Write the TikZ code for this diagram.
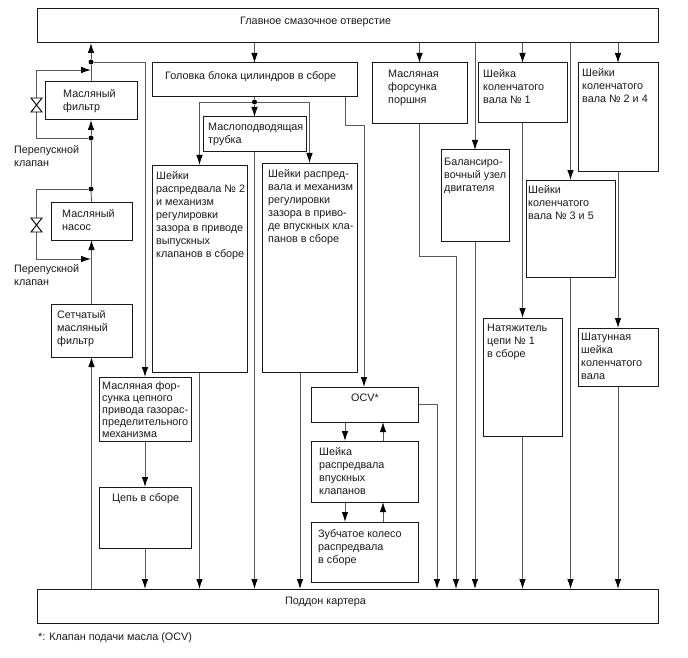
\documentclass[tikz,border=0pt]{standalone}
\usepackage{fontspec}
\usepackage{tikz}
\usepackage{xcolor}
\setmainfont{Liberation Sans}
\usetikzlibrary{arrows.meta,backgrounds}

\definecolor{linegray}{gray}{0.35}
\definecolor{boxline}{gray}{0.1}

\tikzset{
    unit/.style={draw=boxline, line width=1pt, rectangle, inner sep=0pt, outer sep=0pt, anchor=north west},
    txt/.style={inner sep=0pt, anchor=north west, align=left, text=black!90, font=\fontsize{10.8}{13}\selectfont},
    feed/.style={draw=linegray, line width=0.9pt},
    arr/.style={feed, -{Latex[length=10pt,width=6.5pt,color=black]}},
    joint/.style={circle, fill=black, inner sep=0pt, minimum size=5pt},
    valve/.style={draw=black, line width=0.9pt, fill=white}
}

\begin{document}
\begin{tikzpicture}[x=1pt,y=-1pt]
    \useasboundingbox (0,0) rectangle (688,658);

    % main gallery and oil pan
    \node[unit, minimum width=621pt, minimum height=34pt] (gallery) at (37,9) {};
    \node[unit, minimum width=621pt, minimum height=34pt] (pan) at (37,589) {};
    \node[txt] (gallerytxt) at (240,17) {Главное смазочное отверстие};
    \node[txt] (pantxt) at (285,597) {Поддон картера};

    % left column
    \node[unit, minimum width=92pt, minimum height=38pt] (filter) at (45,82) {};
    \node[txt] (filtertxt) at (63,89) {Масляный\\фильтр};
    \node[unit, minimum width=81pt, minimum height=38pt] (pump) at (51,202) {};
    \node[txt] (pumptxt) at (62,209) {Масляный\\насос};
    \node[unit, minimum width=81pt, minimum height=53pt] (strainer) at (51,304) {};
    \node[txt] (strainertxt) at (57,310) {Сетчатый\\масляный\\фильтр};
    \node[txt] (bypassa) at (14,145) {Перепускной\\клапан};
    \node[txt] (bypassb) at (14,264) {Перепускной\\клапан};

    % chain branch
    \node[unit, minimum width=92pt, minimum height=64pt] (jet) at (99,377) {};
    \node[txt, font=\fontsize{10.8}{12}\selectfont] (jettxt) at (102,381) {Масляная фор-\\сунка цепного\\привода газорас-\\пределительного\\механизма};
    \node[unit, minimum width=92pt, minimum height=61pt] (chain) at (99,487) {};
    \node[txt] (chaintxt) at (112,493) {Цепь в сборе};

    % cylinder head branch
    \node[unit, minimum width=205pt, minimum height=34pt] (head) at (152,63) {};
    \node[txt] (headtxt) at (165,71) {Головка блока цилиндров в сборе};
    \node[unit, minimum width=103pt, minimum height=35pt] (tube) at (203,117) {};
    \node[txt] (tubetxt) at (208,123) {Маслоподводящая\\трубка};
    \node[unit, minimum width=95pt, minimum height=207pt] (camex) at (152,165) {};
    \node[txt] (camextxt) at (156,171) {Шейки\\распредвала № 2\\и механизм\\регулировки\\зазора в приводе\\выпускных\\клапанов в сборе};
    \node[unit, minimum width=95pt, minimum height=209pt] (camin) at (262,163) {};
    \node[txt] (camintxt) at (268,169) {Шейки распред-\\вала и механизм\\регулировки\\зазора в приво-\\де впускных кла-\\панов в сборе};

    % variable timing branch
    \node[unit, minimum width=107pt, minimum height=35pt] (ocv) at (311,387) {};
    \node[txt] (ocvtxt) at (351,394) {OCV*};
    \node[unit, minimum width=107pt, minimum height=61pt] (journal) at (311,441) {};
    \node[txt] (journaltxt) at (319,447) {Шейка\\распредвала\\впускных\\клапанов};
    \node[unit, minimum width=107pt, minimum height=60pt] (gear) at (311,522) {};
    \node[txt] (geartxt) at (318,529) {Зубчатое колесо\\распредвала\\в сборе};

    % crankshaft side
    \node[unit, minimum width=95pt, minimum height=61pt] (piston) at (372,63) {};
    \node[txt] (pistontxt) at (388,70) {Масляная\\форсунка\\поршня};
    \node[unit, minimum width=68pt, minimum height=91pt] (balance) at (441,150) {};
    \node[txt] (balancetxt) at (444,158) {Балансиро-\\вочный узел\\двигателя};
    \node[unit, minimum width=89pt, minimum height=60pt] (crankone) at (478,63) {};
    \node[txt] (cranktxt) at (483,69) {Шейка\\коленчатого\\вала № 1};
    \node[unit, minimum width=80pt, minimum height=108pt] (cranktwo) at (578,63) {};
    \node[txt] (cranktwotxt) at (582,68) {Шейки\\коленчатого\\вала № 2 и 4};
    \node[unit, minimum width=89pt, minimum height=97pt] (crankthree) at (526,180) {};
    \node[txt] (crankthreetxt) at (528,185) {Шейки\\коленчатого\\вала № 3 и 5};
    \node[unit, minimum width=79pt, minimum height=118pt] (tensioner) at (483,318) {};
    \node[txt] (tensionertxt) at (487,324) {Натяжитель\\цепи № 1\\в сборе};
    \node[unit, minimum width=80pt, minimum height=58pt] (rod) at (578,328) {};
    \node[txt] (rodtxt) at (581,333) {Шатунная\\шейка\\коленчатого\\вала};

    \node[txt] (note) at (38,632) {*: Клапан подачи масла (OCV)};

    % branch points
    \node[joint] (mainjoint) at (91,62) {};
    \node[joint] (filterjoint) at (91,138) {};
    \node[joint] (pumpjoint) at (91,189) {};
    \node[joint] (headjoint) at (254.5,102) {};

    \begin{scope}[on background layer]
    % pressure side
    \draw[arr] (pan.north -| strainer.south) -- (strainer.south);
    \draw[arr] (strainer.north) -- (pump.south);
    \draw[feed] (pump.north) -- (pumpjoint);
    \draw[feed] (pumpjoint) -- (filterjoint);
    \draw[arr] (filterjoint) -- (filter.south);
    \draw[feed] (filter.north) -- (mainjoint);
    \draw[arr] (mainjoint) -- (mainjoint |- gallery.south);

    % relief loops round pump and filter
    \coordinate (loopa) at (36,138);
    \coordinate (loopb) at (36,70);
    \coordinate (loopc) at (36,189);
    \coordinate (loopd) at (36,259);
    \draw[arr] (filterjoint) -- (loopa) -- (loopb) -- (loopb -| filterjoint);
    \draw[arr] (pumpjoint) -- (loopc) -- (loopd) -- (loopd -| pumpjoint);

    % chain branch
    \coordinate (chainbend) at (145,62);
    \draw[arr] (mainjoint) -- (chainbend) -- (jet.north);
    \draw[arr] (jet.south) -- (chain.north);
    \draw[arr] (chain.south) -- (pan.north -| chain.south);

    % cylinder head
    \draw[arr] (gallery.south -| head.north) -- (head.north);
    \draw[feed] (head.south) -- (headjoint);
    \draw[arr] (headjoint) -- (tube.north);
    \draw[arr] (headjoint) -| (camex.north);
    \draw[arr] (headjoint) -| (camin.north);
    \draw[arr] (tube.south) -- (pan.north -| tube.south);
    \draw[arr] (camex.south) -- (pan.north -| camex.south);
    \coordinate (caminout) at (300,372);
    \draw[arr] (caminout) -- (pan.north -| caminout);

    % OCV and its journal and gear
    \coordinate (ocvfeeda) at (345,97);
    \coordinate (ocvfeedb) at (345,125);
    \coordinate (ocvfeedc) at (364,125);
    \draw[arr] (ocvfeeda) -- (ocvfeedb) -- (ocvfeedc) -- (ocvfeedc |- ocv.north);
    \coordinate (downx) at (345,0);
    \coordinate (upx) at (383,0);
    \draw[arr] (ocv.south -| downx) -- (journal.north -| downx);
    \draw[arr] (journal.north -| upx) -- (ocv.south -| upx);
    \draw[arr] (journal.south -| downx) -- (gear.north -| downx);
    \draw[arr] (gear.north -| upx) -- (journal.south -| upx);
    \coordinate (ocvdrain) at (437,404);
    \draw[arr] (ocv.east |- ocvdrain) -- (ocvdrain) -- (pan.north -| ocvdrain);

    % piston jet
    \draw[arr] (gallery.south -| piston.north) -- (piston.north);
    \coordinate (jetdraina) at (419.5,256);
    \coordinate (jetdrainb) at (456,256);
    \draw[arr] (piston.south) -- (jetdraina) -- (jetdrainb) -- (pan.north -| jetdrainb);

    % crankshaft journals
    \draw[arr] (gallery.south -| balance.north) -- (balance.north);
    \draw[arr] (balance.south) -- (pan.north -| balance.south);
    \draw[arr] (gallery.south -| crankone.north) -- (crankone.north);
    \draw[arr] (crankone.south) -- (tensioner.north);
    \draw[arr] (tensioner.south) -- (pan.north -| tensioner.south);
    \draw[arr] (gallery.south -| crankthree.north) -- (crankthree.north);
    \draw[arr] (crankthree.south) -- (pan.north -| crankthree.south);
    \draw[arr] (gallery.south -| cranktwo.north) -- (cranktwo.north);
    \draw[arr] (cranktwo.south) -- (rod.north);
    \draw[arr] (rod.south) -- (pan.north -| rod.south);
    \end{scope}

    % bypass valves
    \draw[valve] (31,98) -- (42,98) -- (31,112) -- (42,112) -- cycle;
    \draw[valve] (31,218) -- (42,218) -- (31,232) -- (42,232) -- cycle;
\end{tikzpicture}
\end{document}
